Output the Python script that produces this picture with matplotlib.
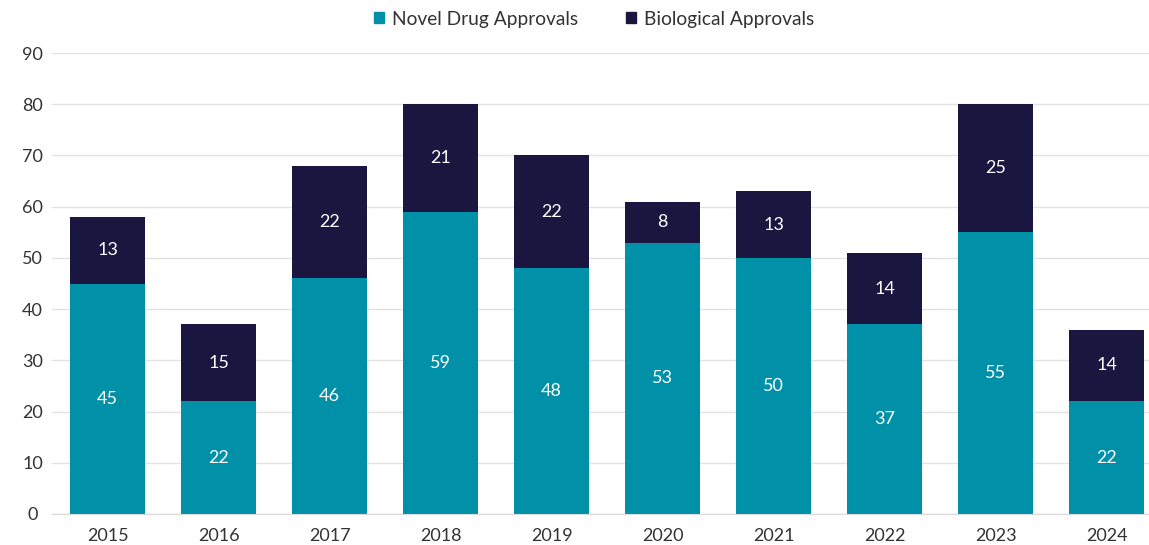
import matplotlib
matplotlib.use("Agg")
import matplotlib.pyplot as plt
from matplotlib.patches import Patch

years = ["2015", "2016", "2017", "2018", "2019", "2020", "2021", "2022", "2023", "2024"]
novel_drugs = [45, 22, 46, 59, 48, 53, 50, 37, 55, 22]
biologicals = [13, 15, 22, 21, 22, 8, 13, 14, 25, 14]

TEAL = "#0091a9"
NAVY = "#1b1640"
TEXT = "#333333"

plt.rcParams["font.family"] = ["Lato", "DejaVu Sans"]

fig = plt.figure(figsize=(11.49, 5.45), dpi=100)
ax = fig.add_axes([52 / 1149, 1 - 514 / 545, (1149 - 52) / 1149, (514 - 53) / 545])

x = list(range(len(years)))
width = 0.675
ax.bar(x, novel_drugs, width, color=TEAL, zorder=2)
ax.bar(x, biologicals, width, bottom=novel_drugs, color=NAVY, zorder=2)

for i in x:
    ax.text(i, novel_drugs[i] / 2, str(novel_drugs[i]), ha="center", va="center",
            color="white", fontsize=13)
    ax.text(i, novel_drugs[i] + biologicals[i] / 2, str(biologicals[i]), ha="center",
            va="center", color="white", fontsize=13)

ax.set_xlim(-0.5, 9.38)
ax.set_ylim(0, 90)
ax.set_yticks(range(0, 91, 10))
ax.set_xticks(x)
ax.set_xticklabels(years)
ax.tick_params(axis="both", length=0, labelsize=13, colors=TEXT)
ax.tick_params(axis="x", pad=10)
ax.tick_params(axis="y", pad=14)
for lbl in ax.get_yticklabels():
    lbl.set_horizontalalignment("center")
ax.grid(axis="y", color="#e3e3e3", linewidth=1, zorder=0)
for side in ["top", "right", "left"]:
    ax.spines[side].set_visible(False)
ax.spines["bottom"].set_color("#d9d9d9")
ax.spines["bottom"].set_zorder(3)

handles = [Patch(color=TEAL, label="Novel Drug Approvals"),
           Patch(color=NAVY, label="Biological Approvals")]
fig.legend(handles=handles, loc="center", bbox_to_anchor=(0.517, 1 - 19 / 545), ncol=2,
           frameon=False, fontsize=13.75, handlelength=0.55, handleheight=0.55,
           handletextpad=0.4, columnspacing=2.5, labelcolor=TEXT)

fig.savefig("out.png", dpi=100)
